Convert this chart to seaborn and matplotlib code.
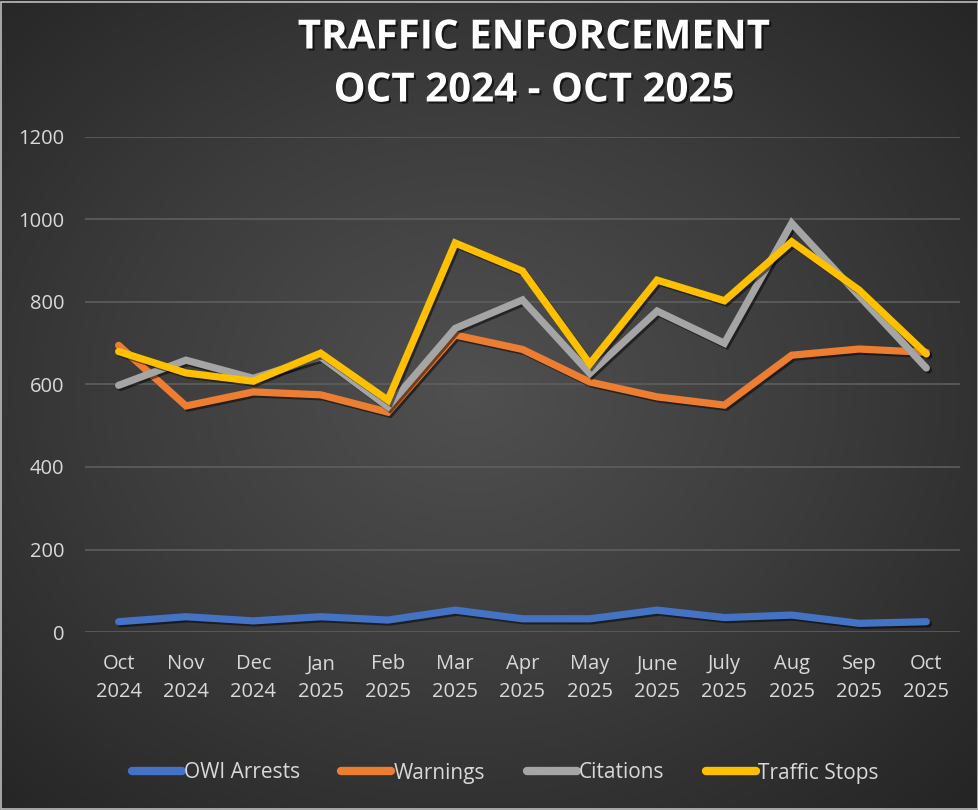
import numpy as np
import pandas as pd
import matplotlib
matplotlib.use("Agg")
import matplotlib.pyplot as plt
import matplotlib.patheffects as pe
from matplotlib.colors import LinearSegmentedColormap
import seaborn as sns

months = ["Oct\n2024", "Nov\n2024", "Dec\n2024", "Jan\n2025", "Feb\n2025", "Mar\n2025", "Apr\n2025",
          "May\n2025", "June\n2025", "July\n2025", "Aug\n2025", "Sep\n2025", "Oct\n2025"]
owi_arrests = [25, 37, 27, 37, 29, 53, 32, 32, 53, 35, 41, 21, 25]
warnings = [695, 548, 582, 575, 533, 720, 685, 606, 570, 550, 671, 686, 678]
citations = [598, 659, 615, 667, 546, 736, 805, 627, 778, 700, 991, 815, 640]
traffic_stops = [680, 628, 608, 676, 562, 943, 875, 650, 853, 803, 946, 829, 674]

series = ["OWI Arrests", "Warnings", "Citations", "Traffic Stops"]
colors = ["#4472C4", "#ED7D31", "#A5A5A5", "#FFC000"]

df = pd.DataFrame({
    "idx": list(range(len(months))) * 4,
    "value": owi_arrests + warnings + citations + traffic_stops,
    "series": sum([[s] * len(months) for s in series], []),
})

sns.set_theme(style="dark")
plt.rcParams["font.family"] = ["Open Sans", "DejaVu Sans"]

fig = plt.figure(figsize=(9.79, 8.10), dpi=100)

# radial gradient background
bg = fig.add_axes([0, 0, 1, 1], zorder=-10)
yy, xx = np.mgrid[0:810, 0:979]
r = np.sqrt(((xx - 470) / 700.0) ** 2 + ((yy - 390) / 580.0) ** 2)
cmap = LinearSegmentedColormap.from_list("bg", ["#505050", "#3c3c3c", "#252525"])
bg.imshow(np.clip(r, 0, 1), cmap=cmap, aspect="auto", extent=[0, 1, 0, 1], origin="upper")
bg.set_axis_off()
fig.patches.append(plt.Rectangle((0.001, 0.001), 0.998, 0.997, transform=fig.transFigure,
                                 fill=False, edgecolor="#bdbdbd", linewidth=1.2))

ax = fig.add_axes([85 / 979, 1 - 632 / 810, 875 / 979, 495 / 810])
ax.set_facecolor("none")
ax.patch.set_alpha(0)

sns.lineplot(data=df, x="idx", y="value", hue="series", hue_order=series,
             palette=colors, linewidth=5.2, sort=False, ax=ax, legend=False,
             solid_capstyle="round", solid_joinstyle="miter")
for line in ax.get_lines():
    line.set_path_effects([pe.SimpleLineShadow(offset=(1.5, -1.5), shadow_color="black", alpha=0.5),
                           pe.Normal()])

ax.set_xlim(-0.5, len(months) - 0.5)
ax.set_ylim(0, 1200)
ax.set_yticks(range(0, 1201, 200))
ax.set_xticks(range(len(months)))
ax.set_xticklabels(months, linespacing=1.55)
ax.grid(axis="y", color="#5e5e5e", linewidth=1.2)
ax.grid(axis="x", visible=False)
for s in ax.spines.values():
    s.set_visible(False)
ax.tick_params(axis="both", colors="#d9d9d9", labelsize=14.5, length=0)
ax.tick_params(axis="x", pad=16)
ax.tick_params(axis="y", pad=15)
ax.set_xlabel("")
ax.set_ylabel("")

shadow = [pe.withSimplePatchShadow(offset=(1.5, -1.5), shadow_rgbFace="black", alpha=0.6)]
fig.text(534 / 979, 1 - 38 / 810, "TRAFFIC ENFORCEMENT", ha="center", va="center",
         color="white", fontsize=29, fontweight="bold", path_effects=shadow)
fig.text(534 / 979, 1 - 91 / 810, "OCT 2024 - OCT 2025", ha="center", va="center",
         color="white", fontsize=29, fontweight="bold", path_effects=shadow)

handles = [plt.Line2D([], [], color=c, linewidth=6, solid_capstyle="round") for c in colors]
leg = fig.legend(handles, series, loc="center", bbox_to_anchor=(505 / 979, 1 - 773 / 810),
                 ncol=4, frameon=False, fontsize=15, handlelength=2.4, handletextpad=0.1,
                 columnspacing=2.0, labelcolor="#d9d9d9")

fig.savefig("out.png", dpi=100)
